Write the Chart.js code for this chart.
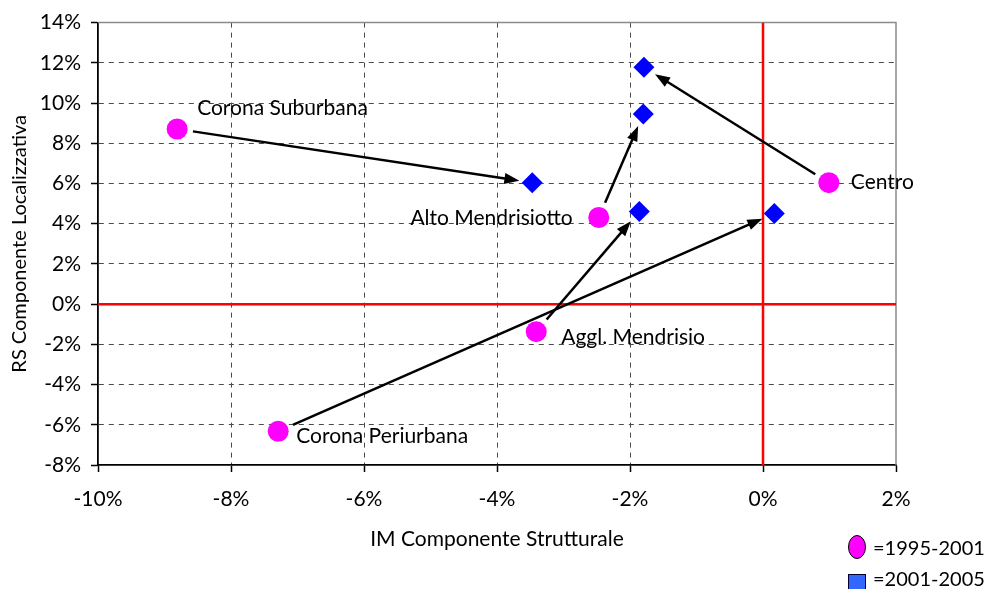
<!DOCTYPE html>
<html>
<head>
<meta charset="utf-8">
<script src="https://cdn.jsdelivr.net/npm/chart.js@4/dist/chart.umd.min.js"></script>
<style>
  html, body { margin: 0; padding: 0; background: #fff; }
  #wrap { width: 985px; height: 589px; position: relative; }
</style>
</head>
<body>
<div id="wrap"><canvas id="c" width="985" height="589"></canvas></div>
<script>
// Areas and their shift-share components (percent)
const regions = ['Corona Suburbana', 'Centro', 'Alto Mendrisiotto', 'Aggl. Mendrisio', 'Corona Periurbana'];
const periods = ['1995-2001', '2001-2005'];
const imFirst  = [-8.81, 0.99, -2.47, -3.41, -7.29];   // IM, 1995-2001
const rsFirst  = [ 8.71, 6.04,  4.31, -1.37, -6.32];   // RS, 1995-2001
const imSecond = [-3.47, -1.79, -1.80, -1.86, 0.17];   // IM, 2001-2005
const rsSecond = [ 6.04, 11.78,  9.45,  4.61, 4.51];   // RS, 2001-2005

// Axis ranges and tick spacing
const xRange = [-10, 2];
const yRange = [-8, 14];
const tickStep = 2;
const xTitle = 'IM Componente Strutturale';
const yTitle = 'RS Componente Localizzativa';

const FONT = 'Lato, "Open Sans", sans-serif';
const FONT_SIZE = 21;
const PINK = '#FF00FF';
const BLUE = '#0000FF';

// Where each area's name sits relative to its first-period marker (px)
const labelStyle = [
  { dx: 20, dy: -21, align: 'left' },
  { dx: 22, dy: 0, align: 'left' },
  { dx: -26, dy: 1, align: 'right' },
  { dx: 25, dy: 6, align: 'left' },
  { dx: 18, dy: 5, align: 'left' }
];

const toPoints = (xs, ys) => xs.map((x, i) => ({ x: x, y: ys[i] }));

// Solid grey frame on top and right of the plot area
const framePlugin = {
  id: 'frame',
  beforeDatasetsDraw(chart) {
    const { ctx, chartArea: a } = chart;
    ctx.save();
    ctx.strokeStyle = '#8a8a8a';
    ctx.lineWidth = 1.5;
    ctx.beginPath();
    ctx.moveTo(a.left, a.top);
    ctx.lineTo(a.right, a.top);
    ctx.lineTo(a.right, a.bottom);
    ctx.stroke();
    ctx.restore();
  }
};

// Arrows from each area's 1995-2001 position to its 2001-2005 position
const arrowPlugin = {
  id: 'arrows',
  afterDatasetsDraw(chart) {
    const { ctx, scales } = chart;
    const gapStart = 16, gapEnd = 13, headLen = 15, headHalf = 5.5;
    ctx.save();
    ctx.strokeStyle = '#000';
    ctx.fillStyle = '#000';
    ctx.lineWidth = 2.5;
    for (let i = 0; i < regions.length; i++) {
      const x1 = scales.x.getPixelForValue(imFirst[i]);
      const y1 = scales.y.getPixelForValue(rsFirst[i]);
      const x2 = scales.x.getPixelForValue(imSecond[i]);
      const y2 = scales.y.getPixelForValue(rsSecond[i]);
      const len = Math.hypot(x2 - x1, y2 - y1);
      const ux = (x2 - x1) / len, uy = (y2 - y1) / len;
      const sx = x1 + ux * gapStart, sy = y1 + uy * gapStart;
      const ex = x2 - ux * gapEnd, ey = y2 - uy * gapEnd;
      const bx = ex - ux * headLen, by = ey - uy * headLen;
      ctx.beginPath();
      ctx.moveTo(sx, sy);
      ctx.lineTo(bx + ux * 2, by + uy * 2);
      ctx.stroke();
      ctx.beginPath();
      ctx.moveTo(ex, ey);
      ctx.lineTo(bx - uy * headHalf, by + ux * headHalf);
      ctx.lineTo(bx + uy * headHalf, by - ux * headHalf);
      ctx.closePath();
      ctx.fill();
    }
    ctx.restore();
  }
};

// Area names next to the first-period markers
const namePlugin = {
  id: 'names',
  afterDatasetsDraw(chart) {
    const { ctx, scales } = chart;
    ctx.save();
    ctx.font = FONT_SIZE + 'px ' + FONT;
    ctx.fillStyle = '#000';
    ctx.textBaseline = 'middle';
    regions.forEach((name, i) => {
      const s = labelStyle[i];
      const px = scales.x.getPixelForValue(imFirst[i]);
      const py = scales.y.getPixelForValue(rsFirst[i]);
      ctx.textAlign = s.align;
      ctx.fillText(name, px + s.dx, py + s.dy);
    });
    ctx.restore();
  }
};

// Period key in the lower right corner
const keyPlugin = {
  id: 'periodKey',
  afterDraw(chart) {
    const { ctx } = chart;
    ctx.save();
    ctx.font = '20px ' + FONT;
    ctx.textBaseline = 'middle';
    ctx.textAlign = 'left';
    // ellipse for the first period
    ctx.beginPath();
    ctx.ellipse(857, 547, 8.5, 11.5, 0, 0, Math.PI * 2);
    ctx.fillStyle = PINK;
    ctx.fill();
    ctx.lineWidth = 1;
    ctx.strokeStyle = '#000';
    ctx.stroke();
    ctx.fillStyle = '#000';
    ctx.fillText('=' + periods[0], 873, 549);
    // square for the second period
    ctx.fillStyle = '#3366FF';
    ctx.fillRect(848.5, 574.5, 17, 17);
    ctx.strokeStyle = '#000033';
    ctx.strokeRect(848.5, 574.5, 17, 17);
    ctx.fillStyle = '#000';
    ctx.fillText('=' + periods[1], 873, 580);
    ctx.restore();
  }
};

const hideEdge = (range) => (c) => {
  const v = c.tick ? c.tick.value : null;
  if (v === 0 || v === range[0] || v === range[1]) return 'rgba(0,0,0,0)';
  return '#4a4a4a';
};

new Chart(document.getElementById('c'), {
  type: 'scatter',
  data: {
    datasets: [
      {
        label: periods[0],
        data: toPoints(imFirst, rsFirst),
        pointStyle: 'circle',
        pointRadius: 10.5,
        pointHoverRadius: 10.5,
        backgroundColor: PINK,
        borderWidth: 0,
        order: 1
      },
      {
        label: periods[1],
        data: toPoints(imSecond, rsSecond),
        pointStyle: 'rectRot',
        pointRadius: 10.5,
        pointHoverRadius: 10.5,
        backgroundColor: BLUE,
        borderWidth: 0,
        order: 2
      },
      {
        label: 'RS = 0',
        type: 'line',
        data: [{ x: xRange[0], y: 0 }, { x: xRange[1], y: 0 }],
        borderColor: '#FF0000',
        borderWidth: 2.5,
        pointRadius: 0,
        order: 3
      },
      {
        label: 'IM = 0',
        type: 'line',
        data: [{ x: 0, y: yRange[0] }, { x: 0, y: yRange[1] }],
        borderColor: '#FF0000',
        borderWidth: 2.5,
        pointRadius: 0,
        order: 3
      }
    ]
  },
  options: {
    responsive: false,
    animation: false,
    devicePixelRatio: 1,
    layout: { padding: { left: 0, right: 89, top: 20, bottom: 0 } },
    plugins: {
      legend: { display: false },
      tooltip: { enabled: false }
    },
    scales: {
      x: {
        type: 'linear',
        min: xRange[0],
        max: xRange[1],
        ticks: {
          stepSize: tickStep,
          callback: v => v + '%',
          color: '#000',
          font: { size: FONT_SIZE, family: FONT },
          padding: 15,
          maxRotation: 0
        },
        grid: { color: hideEdge(xRange), lineWidth: 1, tickColor: '#000', tickLength: 7, tickWidth: 1.5 },
        border: { color: '#000', width: 1.8, dash: [5, 5] },
        title: {
          display: true,
          text: xTitle,
          color: '#000',
          font: { size: FONT_SIZE, family: FONT },
          padding: { top: 0, bottom: 37 }
        },
        afterFit: s => { s.height = 124; }
      },
      y: {
        type: 'linear',
        min: yRange[0],
        max: yRange[1],
        ticks: {
          stepSize: tickStep,
          callback: v => v + '%',
          color: '#000',
          font: { size: FONT_SIZE, family: FONT },
          padding: 10
        },
        grid: { color: hideEdge(yRange), lineWidth: 1, tickColor: '#000', tickLength: 7, tickWidth: 1.5 },
        border: { color: '#000', width: 1.8, dash: [5, 5] },
        title: {
          display: true,
          text: yTitle,
          color: '#000',
          font: { size: 20, family: FONT },
          padding: { top: 8, bottom: 0 }
        },
        afterFit: s => { s.width = 98; }
      }
    }
  },
  plugins: [framePlugin, arrowPlugin, namePlugin, keyPlugin]
});
</script>
</body>
</html>
